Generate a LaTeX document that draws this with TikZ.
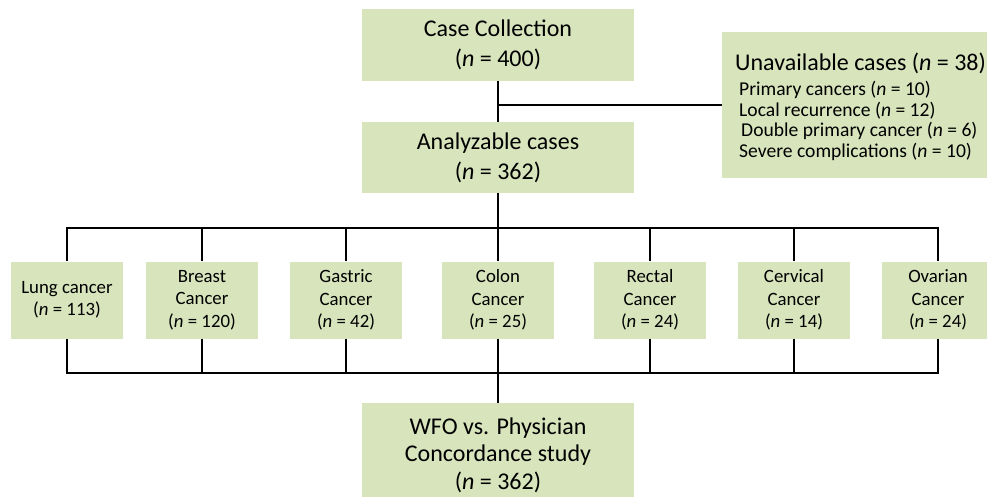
\documentclass[tikz,border=0pt]{standalone}
\usepackage{fontspec}
\setmainfont{Carlito}
\definecolor{boxgreen}{HTML}{D8E4BC}
\begin{document}
\begin{tikzpicture}[x=1pt,y=-1pt,
  box/.style={fill=boxgreen, draw=none, inner sep=0pt, align=center},
  bigbox/.style={box, minimum width=272pt, font=\fontsize{24}{30}\selectfont},
  cbox/.style={box, minimum width=112pt, minimum height=77pt, font=\fontsize{18.8}{22.5}\selectfont},
  conn/.style={draw=black, line width=1.8pt}]
\clip (0,0) rectangle (987,497);
\fill[white] (0,0) rectangle (987,497);
% top
\node[bigbox, minimum height=72pt] (top) at (498,45) {Case Collection\\(\textit{n} = 400)};
\node[bigbox, minimum height=71pt] (ana) at (498,157.5) {Analyzable cases\\(\textit{n} = 362)};
\node[box, minimum width=270pt, minimum height=146pt] (unav) at (857,105) {};
\node[anchor=north west, inner sep=0pt, align=left, font=\fontsize{24}{29}\selectfont] (unavt) at (735,53) {Unavailable cases (\textit{n} = 38)};
\node[anchor=north west, inner sep=0pt, align=left, font=\fontsize{19.6}{20.7}\selectfont] (unavl) at (739,81) {Primary cancers (\textit{n} = 10)\\Local recurrence (\textit{n} = 12)\\\hspace{2pt}Double primary cancer (\textit{n} = 6)\\Severe complications (\textit{n} = 10)};
% cancer boxes
\node[cbox] (lung) at (67,300) {Lung cancer\\(\textit{n} = 113)};
\node[cbox] (breast) at (202,300) {Breast\\Cancer\\(\textit{n} = 120)};
\node[cbox] (gastric) at (346,300) {Gastric\\Cancer\\(\textit{n} = 42)};
\node[cbox] (colon) at (498,300) {Colon\\Cancer\\(\textit{n} = 25)};
\node[cbox] (rectal) at (650,300) {Rectal\\Cancer\\(\textit{n} = 24)};
\node[cbox] (cervical) at (794,300) {Cervical\\Cancer\\(\textit{n} = 14)};
\node[cbox] (ovarian) at (938,300) {Ovarian\\Cancer\\(\textit{n} = 24)};
% bottom
\node[bigbox, minimum height=100pt, text depth=0pt] (wfo) at (498,453) {};
\node[inner sep=0pt, align=center, font=\fontsize{24}{27.5}\selectfont] (wfot) at (498,455) {WFO vs. Physician\\Concordance study\\(\textit{n} = 362)};
% connectors
\coordinate (busT) at (0,228);
\coordinate (busB) at (0,373);
\draw[conn] (top.south) -- (ana.north);
\draw[conn] (top.south |- unav.west) -- (unav.west);
\draw[conn] (ana.south) -- (ana.south |- busT);
\draw[conn] (lung.north) -- (lung.north |- busT) -- (ovarian.north |- busT) -- (ovarian.north);
\draw[conn] (lung.south) -- (lung.south |- busB) -- (ovarian.south |- busB) -- (ovarian.south);
\foreach \b in {breast,gastric,colon,rectal,cervical} {
  \draw[conn] (\b.north) -- (\b.north |- busT);
  \draw[conn] (\b.south) -- (\b.south |- busB);
}
\draw[conn] (colon.south |- busB) -- (wfo.north);
\end{tikzpicture}
\end{document}
